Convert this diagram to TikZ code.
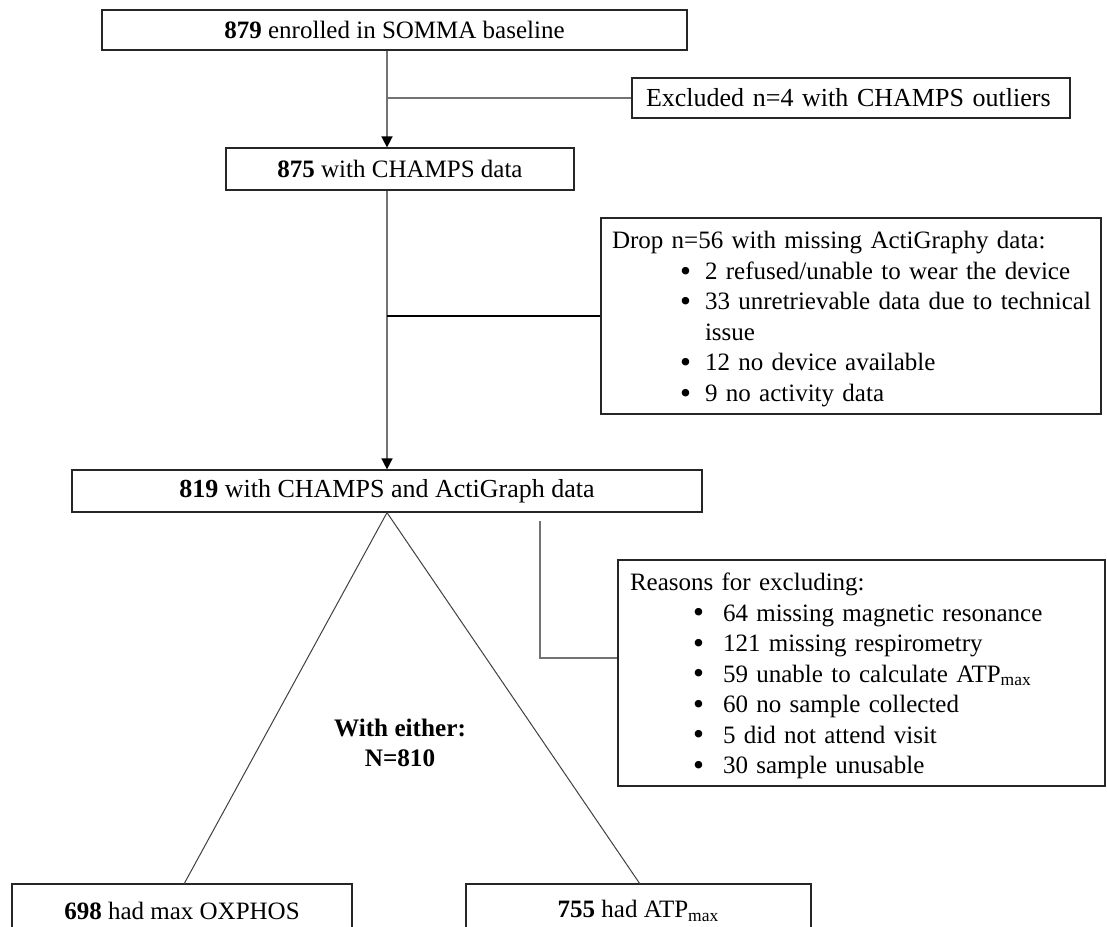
\documentclass[tikz,border=0pt]{standalone}
\usepackage{fontspec}
\usepackage{graphicx}
\setmainfont{Liberation Serif}
\usetikzlibrary{arrows.meta}
\newcommand{\bigbul}{\smash{\raisebox{-0.9pt}{\scalebox{1.25}{\textbullet}}}}
\newcommand{\bitem}[2][34pt]{\mbox{\makebox[46.5pt][l]{\hspace{#1}\bigbul}#2}}
\begin{document}
\begin{tikzpicture}[x=0.5pt,y=-0.5pt,
  every node/.style={font=\fontsize{12.5}{15.25}\selectfont},
  big/.style={font=\fontsize{13}{15.25}\selectfont},
  box/.style={draw=black!85, line width=0.6pt, inner sep=0pt},
  conn/.style={draw=black!55, line width=0.75pt},
  bconn/.style={draw=black, line width=0.6pt},
  arr/.style={conn, -{Triangle[width=5.5pt,length=5.5pt,color=black]}},
  tri/.style={draw=black!75, line width=0.5pt}]
\path[use as bounding box] (0,0) rectangle (1107,926);
\coordinate (ax) at (387,0);

\node[box, minimum width=292.5pt, minimum height=20pt] (b1) at (394.5,30) {\textbf{879} enrolled in SOMMA baseline};
\node[box, big, minimum width=219pt, minimum height=20pt, inner xsep=7pt, text width=205pt, align=left] (excl) at (851,98) {Excluded n=4 with CHAMPS outliers};
\node[box, minimum width=174pt, minimum height=21pt] (b2) at (400,169) {\textbf{875} with CHAMPS data};
\node[box, minimum width=250pt, minimum height=98pt, inner xsep=5.5pt, text width=239pt, align=left] (drop) at (851,316) {\mbox{\rule{0pt}{11.8pt}Drop n=56 with missing ActiGraphy data:}\\
\bitem{2 refused/unable to wear the device}\\
\bitem{33 unretrievable data due to technical}\\
\hspace*{46.5pt}issue\\
\bitem{12 no device available}\\
\bitem{9 no activity data}};
\node[box, big, minimum width=315pt, minimum height=21pt] (b3) at (387,491) {\textbf{819} with CHAMPS and ActiGraph data};
\node[box, minimum width=243.5pt, minimum height=113pt, inner xsep=6pt, text width=231.5pt, align=left] (reas) at (861.5,673) {\mbox{\rule{0pt}{11.8pt}Reasons for excluding:}\\
\bitem[31.5pt]{64 missing magnetic resonance}\\
\bitem[31.5pt]{121 missing respirometry}\\
\bitem[31.5pt]{59 unable to calculate ATP\textsubscript{max}}\\
\bitem[31.5pt]{60 no sample collected}\\
\bitem[31.5pt]{5 did not attend visit}\\
\bitem[31.5pt]{30 sample unusable}};
\node[align=center, font=\fontsize{12.6}{15.25}\selectfont\bfseries] (either) at (400,743) {With either:\\N=810};
\node[box, minimum width=170pt, minimum height=27pt] (ox) at (182,911) {\textbf{698} had max OXPHOS};
\node[box, minimum width=172.5pt, minimum height=27pt] (atp) at (638.5,911) {\textbf{755} had ATP\textsubscript{max}};

\draw[arr] (b1.south -| ax) -- (b2.north -| ax);
\draw[conn] (excl.west) -- (excl.west -| ax);
\draw[arr] (b2.south -| ax) -- (b3.north -| ax);
\draw[bconn] (drop.west) -- (drop.west -| ax);
\coordinate (e1) at (540,521);
\coordinate (e2) at (540,658);
\draw[conn] (e1) -- (e2) -- (e2 -| reas.west);
\coordinate (tl) at (184,884);
\coordinate (tr) at (640,884);
\draw[tri] (tl) -- (b3.south -| ax) -- (tr);
\end{tikzpicture}
\end{document}
